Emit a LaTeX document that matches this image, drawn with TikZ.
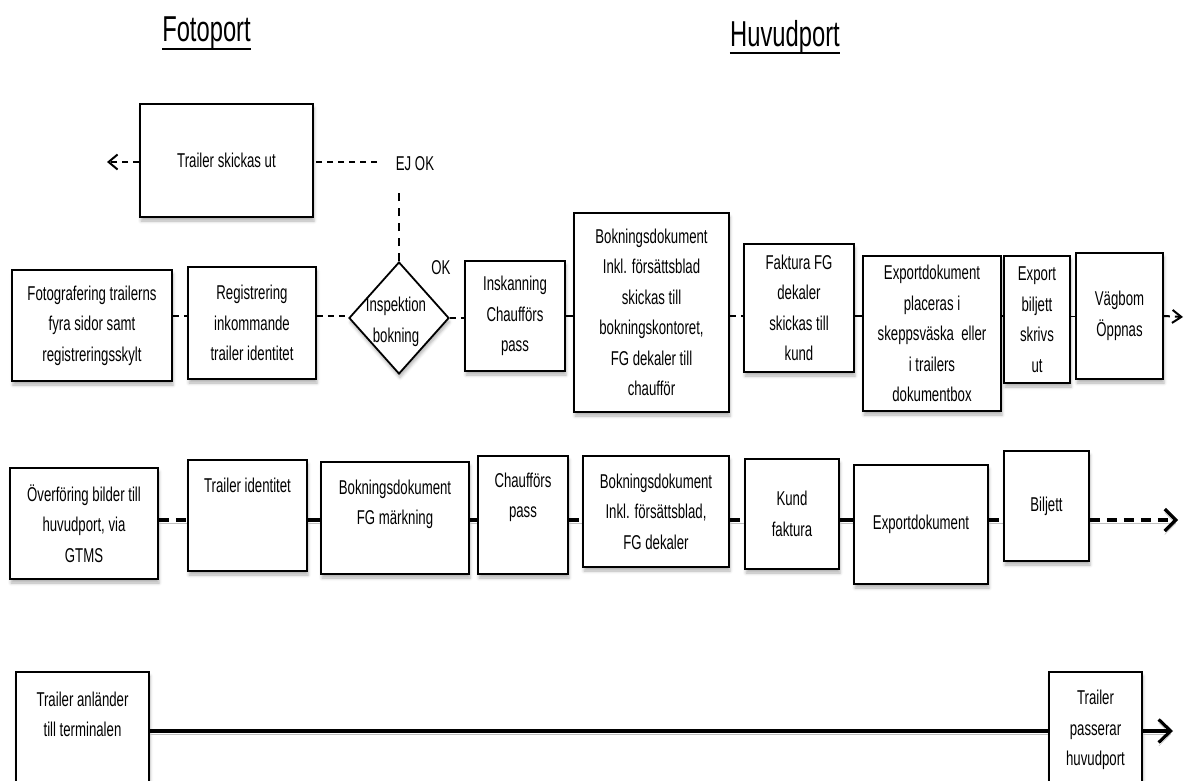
\documentclass[tikz,border=0pt]{standalone}
\usepackage{fontspec}
\setmainfont{Liberation Sans}[FakeStretch=0.66]
\usetikzlibrary{shapes.geometric,arrows.meta,shadows.blur}

\newcommand{\bodyfont}{\fontsize{20}{30.5}\selectfont}
\newcommand{\headfont}{\fontsize{36}{40}\selectfont}

\tikzset{
  box/.style={draw, line width=1.8pt, fill=white, inner sep=2pt, align=center,
    font=\bodyfont,
    blur shadow={shadow xshift=1pt, shadow yshift=-4pt, shadow blur radius=3pt, shadow opacity=30}},
  txt/.style={inner sep=0pt, align=center, font=\bodyfont},
  head/.style={inner sep=0pt, anchor=base, font=\headfont},
  lineshade/.style={preaction={draw=black!25, transform canvas={yshift=-3.5pt}}},
  thinflow/.style={line width=2pt},
  dsh/.style={thinflow, dash pattern=on 6pt off 5pt},
  vdsh/.style={line width=1.6pt, dash pattern=on 8pt off 7pt},
  thickflow/.style={line width=3.2pt, lineshade},
  tdsh/.style={thickflow, dash pattern=on 10pt off 7pt},
  smalltip/.style={-{Straight Barb[length=9pt, width=15pt]}},
  bigtip/.style={-{Straight Barb[length=11pt, width=22pt]}}
}

% \pbox[options]{name}{x1}{y1}{x2}{y2}{text}: a process box by its corners (y downwards)
\newcommand{\pbox}[7][]{%
  \node[box, #1, minimum width={(#5-#3)*1pt}, minimum height={(#6-#4)*1pt}]
    (#2) at ({(#3+#5)/2},{(#4+#6)/2}) {#7};}

\begin{document}
\begin{tikzpicture}[x=1pt, y=-1pt]
\useasboundingbox (0,0) rectangle (1184,781);
\clip (0,0) rectangle (1184,781);

% headings
\node[head] (fp) at (206.5,42) {Fotoport};
\draw[line width=2pt] ([yshift=-7pt]fp.base west) -- ([yshift=-7pt]fp.base east);
\node[head] (hp) at (785,47) {Huvudport};
\draw[line width=2pt] ([yshift=-6pt]hp.base west) -- ([yshift=-6pt]hp.base east);

% ---------- inspection flow ----------
\coordinate (r1) at (0,316);
\pbox{skick}{140}{104}{313}{217}{Trailer skickas ut}
\pbox{foto}{12}{270}{172}{381}{Fotografering trailerns\\fyra sidor samt\\registreringsskylt}
\pbox{reg}{188}{267}{316}{379}{Registrering\\inkommande\\trailer identitet}
\node[diamond, draw, line width=1.8pt, fill=white, inner sep=0pt,
      minimum width=100pt, minimum height=112pt,
      blur shadow={shadow xshift=1pt, shadow yshift=-4pt, shadow blur radius=3pt, shadow opacity=30}]
  (insp) at (399,318) {};
\node[txt] (inspt) at (396,322) {Inspektion\\bokning};
\pbox{insk}{465}{261}{565}{371}{Inskanning\\Chaufförs\\pass}
\pbox{bok}{574}{213}{729}{412}{Bokningsdokument\\Inkl. försättsblad\\skickas till\\bokningskontoret,\\FG dekaler till\\chaufför}
\pbox{fakt}{744}{244}{854}{372}{Faktura FG\\dekaler\\skickas till\\kund}
\pbox{expd}{863}{256}{1001}{411}{Exportdokument\\placeras i\\skeppsväska\ \ eller\\i trailers\\dokumentbox}
\pbox{bilj}{1004}{256}{1070}{383}{Export\\biljett\\skrivs\\ut}
\pbox{vag}{1076}{253}{1163}{379}{Vägbom\\Öppnas}

\node[txt] (ejok) at (415,164) {EJ OK};
\node[txt] (ok) at (441,268) {OK};
\coordinate (ejbot) at (399,187);
\coordinate (ejleft) at (377,162);
\coordinate (end0) at (107,162);
\coordinate (end1) at (1183,317);

\draw[vdsh] (insp.north) -- (ejbot);
\draw[dsh] (ejleft) -- (skick.east |- ejleft);
\draw[dsh, smalltip] (skick.west |- ejleft) -- (end0);

\draw[dsh] (foto.east |- r1) -- (reg.west |- r1);
\draw[dsh] (reg.east |- r1) -- (insp.west |- r1);
\draw[dsh] (insp.east) -- (insk.west |- insp.east);
\draw[thinflow] (insk.east |- r1) -- (bok.west |- r1);
\draw[dsh] (bok.east |- r1) -- (fakt.west |- r1);
\draw[thinflow] (fakt.east |- r1) -- (expd.west |- r1);
\draw[thinflow] (expd.east |- r1) -- (bilj.west |- r1);
\draw[line width=1pt] (bilj.east |- r1) -- (vag.west |- r1);
\draw[dsh, -{Straight Barb[length=9pt, width=13pt]}] (vag.east |- r1) -- (end1);

% ---------- document flow ----------
\coordinate (r2) at (0,520);
\pbox{over}{10}{468}{158}{579}{Överföring\ bilder till\\huvudport, via\\GTMS}
\pbox{tid}{188}{460}{307}{571}{}
\node[txt] (tidt) at (247.5,485) {Trailer identitet};
\pbox{bfg}{321}{462}{469}{574}{}
\node[txt] (bfgt) at (395,504.5) {Bokningsdokument\\FG märkning};
\pbox{cp}{478}{456}{568}{574}{}
\node[txt] (cpt) at (523,497.5) {Chaufförs\\pass};
\pbox{bi}{583}{456}{729}{567}{Bokningsdokument\\Inkl. försättsblad,\\FG dekaler}
\pbox{kf}{745}{459}{839}{569}{Kund\\faktura}
\pbox{ed}{854}{465}{988}{584}{Exportdokument}
\pbox{bil}{1004}{451}{1089}{561}{Biljett}
\coordinate (end2) at (1178,520);

\draw[tdsh] (over.east |- r2) -- (tid.west |- r2);
\draw[thickflow] (tid.east |- r2) -- (bfg.west |- r2);
\draw[tdsh] (bfg.east |- r2) -- (cp.west |- r2);
\draw[tdsh] (cp.east |- r2) -- (bi.west |- r2);
\draw[tdsh] (bi.east |- r2) -- (kf.west |- r2);
\draw[thickflow] (kf.east |- r2) -- (ed.west |- r2);
\draw[tdsh] (ed.east |- r2) -- (bil.west |- r2);
\draw[tdsh, bigtip] (bil.east |- r2) -- (end2);

% ---------- trailer movement ----------
\coordinate (r3) at (0,731);
\pbox{ta}{16}{672}{149}{810}{}
\node[txt] (tat) at (82.5,714.5) {Trailer anländer\\till terminalen};
\pbox{tp}{1049}{672}{1142}{810}{}
\node[txt] (tpt) at (1095.5,730) {Trailer\\passerar\\huvudport};
\coordinate (end3) at (1173,731);

\draw[thickflow] (ta.east |- r3) -- (tp.west |- r3);
\draw[thickflow, -{Straight Barb[length=12pt, width=23pt]}] (tp.east |- r3) -- (end3);
\end{tikzpicture}
\end{document}
